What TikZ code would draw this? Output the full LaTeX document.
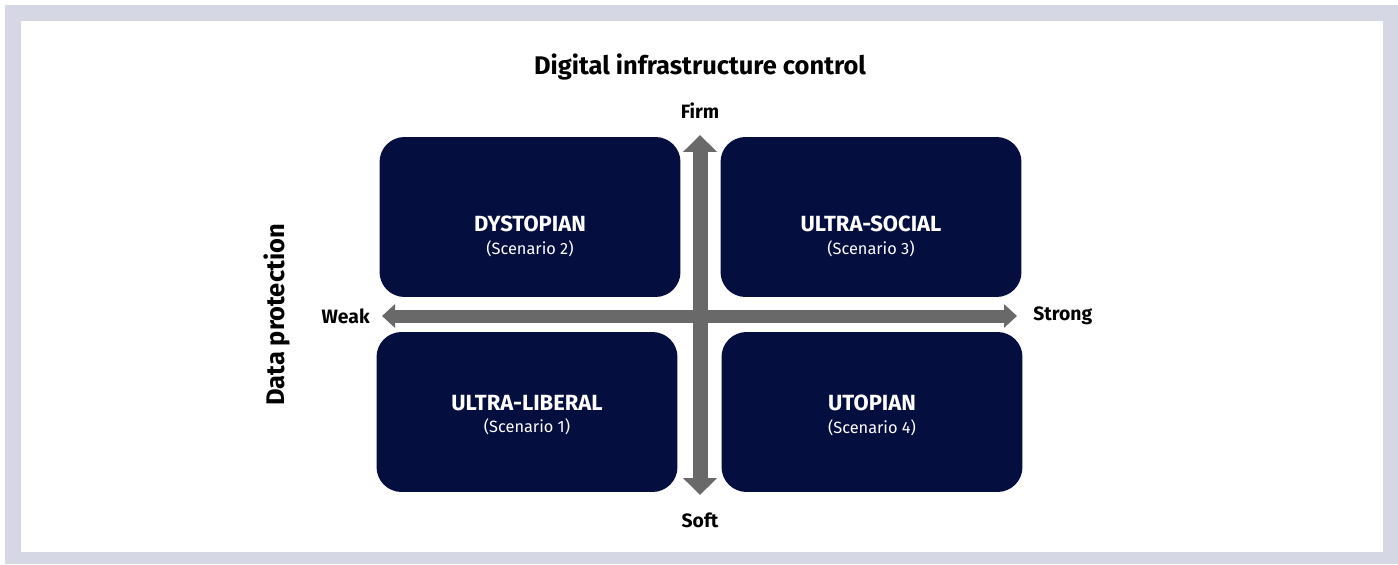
\documentclass[tikz,border=0pt]{standalone}
\usepackage{fontspec}
\setmainfont{Fira Sans}
\usetikzlibrary{arrows.meta,positioning}

\definecolor{navy}{HTML}{040F40}
\definecolor{axisgray}{HTML}{696969}
\definecolor{framecol}{HTML}{D5D7E5}

\begin{document}
\begin{tikzpicture}[x=0.02cm,y=-0.02cm,
	scen/.style={fill=navy, rounded corners=0.5cm, minimum width=6.02cm,
		minimum height=3.2cm, inner sep=0pt},
	scentext/.style={text=white, align=center, font=\fontsize{12.5}{13}\selectfont},
	axislabel/.style={font=\fontsize{11}{13}\selectfont\bfseries, inner sep=0pt},
	vaxis/.style={axisgray, line width=0.3cm, {Triangle[width=0.66cm,length=0.34cm]}-{Triangle[width=0.66cm,length=0.34cm]}},
	haxis/.style={axisgray, line width=0.26cm, {Triangle[width=0.46cm,length=0.26cm]}-{Triangle[width=0.46cm,length=0.26cm]}}]
	
	% frame
	\useasboundingbox (0,0) rectangle (1398,564);
	\fill[framecol] (5,5) rectangle (1398,564);
	\fill[white] (21,21) rectangle (1383,552);
	
	% titles
	\node[font=\fontsize{14.5}{17}\selectfont\bfseries] (title) at (700,67) {Digital infrastructure control};
	\node[font=\fontsize{14.5}{17}\selectfont\bfseries, rotate=90] (dataprot) at (277,315) {Data protection};
	
	% axis labels
	\node[axislabel] (firm) at (700,111) {Firm};
	\node[axislabel] (soft) at (700,520) {Soft};
	\node[axislabel, anchor=east] (weak) at (370,316) {Weak};
	\node[axislabel, anchor=west] (strong) at (1033,316) {Strong};
	
	% scenario boxes
	\node[scen] (dys) at (530,217) {};
	\node[scen] (usoc) at (871,217) {};
	\node[scen] (ulib) at (527,412) {};
	\node[scen] (utop) at (872,412) {};
	
	\node[scentext] at ([yshift=-0.38cm]dys.center) {\textbf{DYSTOPIAN}\\{\fontsize{9.3}{12}\selectfont(Scenario 2)}};
	\node[scentext] at ([yshift=-0.38cm]usoc.center) {\textbf{ULTRA-SOCIAL}\\{\fontsize{9.3}{12}\selectfont(Scenario 3)}};
	\node[scentext] at ([yshift=-0.06cm]ulib.center) {\textbf{ULTRA-LIBERAL}\\{\fontsize{9.3}{12}\selectfont(Scenario 1)}};
	\node[scentext] at ([yshift=-0.06cm]utop.center) {\textbf{UTOPIAN}\\{\fontsize{9.3}{12}\selectfont(Scenario 4)}};
	
	% axes
	\draw[haxis, shorten <=0.24cm, shorten >=0.32cm] (weak.east) -- (strong.west);
	\draw[vaxis, shorten <=0.5cm, shorten >=0.48cm] (soft.center) -- (firm.center);
	
\end{tikzpicture}
\end{document}
